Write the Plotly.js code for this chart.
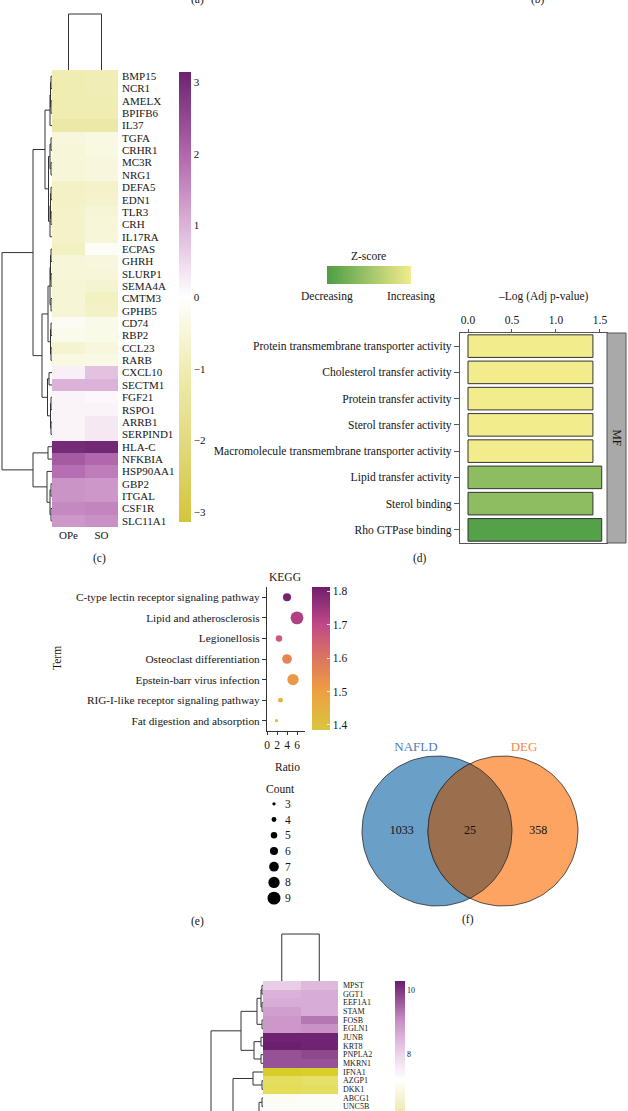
<!DOCTYPE html>
<html><head><meta charset="utf-8">
<script src="https://cdn.plot.ly/plotly-3.0.1.min.js"></script>
<style>html,body{margin:0;padding:0;background:#fff;overflow:hidden}#chart{width:628px;height:1111px}</style>
</head><body><div id="chart"></div>
<script>
// ================= DATA =================
// (c) heatmap
const cGenes = ['BMP15','NCR1','AMELX','BPIFB6','IL37','TGFA','CRHR1','MC3R','NRG1','DEFA5','EDN1','TLR3','CRH','IL17RA','ECPAS','GHRH','SLURP1','SEMA4A','CMTM3','GPHB5','CD74','RBP2','CCL23','RARB','CXCL10','SECTM1','FGF21','RSPO1','ARRB1','SERPIND1','HLA-C','NFKBIA','HSP90AA1','GBP2','ITGAL','CSF1R','SLC11A1'];
const cOPe = [-1.0,-1.0,-1.0,-1.0,-1.2,-0.45,-0.5,-0.5,-0.5,-0.75,-0.75,-0.7,-0.7,-0.7,-0.8,-0.5,-0.5,-0.55,-0.55,-0.55,-0.15,-0.25,-0.6,-0.4,0.2,1.0,0.15,0.15,0.15,0.15,3.0,2.2,1.9,1.4,1.4,1.55,1.35];
const cSO  = [-0.95,-0.95,-1.0,-1.0,-1.2,-0.4,-0.4,-0.45,-0.45,-0.7,-0.65,-0.55,-0.5,-0.5,-0.1,-0.45,-0.5,-0.6,-0.8,-0.75,-0.3,-0.3,-0.45,-0.35,0.8,1.0,0.1,0.15,0.3,0.3,3.05,2.0,1.7,1.35,1.35,1.6,1.45];
const cSamples = ['OPe','SO'];
const cColorTicks = [-3,-2,-1,0,1,2,3];
// row dendrogram merges: [childA, childB, height]; leaves 0..36, merge k -> id 37+k
const cRowMerges = [[0,1,1],[2,3,1],[37,38,1.5],[39,4,2],[5,6,1],[7,8,1],[41,42,2],[9,10,1],[11,12,1],[44,45,1.5],[46,13,2],[43,47,3.5],[40,48,7],
  [14,15,1],[16,17,1],[50,51,1.5],[18,19,1],[52,53,2],[20,21,1],[22,23,1],[55,56,1.5],[54,57,4],[24,25,3],[26,27,1],[28,29,1],[60,61,1.5],[59,62,4.5],[58,63,10],[49,64,19],
  [30,31,4],[33,34,1],[35,36,1],[67,68,2],[32,69,5],[66,70,19],[65,71,50]];
const cColMerges = [[0,1,56]];

// (d) GO MF bar chart
const goTerms = ['Protein transmembrane transporter activity','Cholesterol transfer activity','Protein transfer activity','Sterol transfer activity','Macromolecule transmembrane transporter activity','Lipid transfer activity','Sterol binding','Rho GTPase binding'];
const goLogP = [1.42,1.42,1.42,1.42,1.42,1.52,1.42,1.52];
const goZ = [1,1,1,1,1,-0.24,-0.24,-0.92];
const goCategory = 'MF';
const goTicks = [0,0.5,1,1.5];
const zLegendValues = [-1,1];

// (e) KEGG dot plot
const keggTerms = ['C-type lectin receptor signaling pathway','Lipid and atherosclerosis','Legionellosis','Osteoclast differentiation','Epstein-barr virus infection','RIG-I-like receptor signaling pathway','Fat digestion and absorption'];
const keggRatio = [4.0,6.0,2.4,4.0,5.2,2.7,1.9];
const keggCount = [6,9,5,7,8,4,3];
const keggLogP = [1.80,1.72,1.66,1.56,1.52,1.45,1.40];
const keggRatioTicks = [0,2,4,6];
const keggColorTicks = [1.4,1.5,1.6,1.7,1.8];
const countLegend = [3,4,5,6,7,8,9];

// (f) Venn
const vennSets = ['NAFLD','DEG'];
const vennCounts = [1033,25,358];

// (g) heatmap
const gGenes = ['MPST','GGT1','EEF1A1','STAM','FOSB','EGLN1','JUNB','KRT8','PNPLA2','MKRN1','IFNA1','AZGP1','DKK1','ABCG1','UNC5B'];
const gOPe = [8.1,8.5,8.6,8.8,8.9,8.9,10.2,10.25,9.7,9.7,4.2,5.2,5.1,7.05,7.1];
const gSO  = [8.4,8.6,8.6,8.6,9.3,9.0,10.2,10.2,9.8,9.7,4.3,5.3,5.2,7.1,7.1];
const gColorTicks = [8,10];
// leaves 0..14 visible, 15..30 continue below the picture; merge k -> id 31+k
const gRowMerges = [[0,1,1],[2,3,1],[31,32,2],[4,5,1],[33,34,6],[6,7,2],[8,9,2],[36,37,9],[35,38,22],[11,12,1],[10,40,10],
  [13,14,1],[15,16,1],[17,18,1],[43,44,2],[19,20,1],[21,22,1],[46,47,2],[45,48,3],[42,49,4],
  [23,24,1],[25,26,1],[51,52,2],[27,28,1],[29,30,1],[54,55,2],[53,56,4],[50,57,8],[41,58,30],[39,59,52]];
const gColMerges = [[0,1,46]];

// ================= HELPERS =================
const W=628,H=1111;
const px=v=>v/W, py=v=>1-v/H;
const dx=(a,b)=>[px(a),px(b)];
const dy=(t,b)=>[Math.max(0,py(b)),Math.min(1,py(t))];
const SERIF='"Liberation Serif","Times New Roman",serif';
const TXT='#151515';
const LINE='#333';
function nLeaves(merges){return merges.length+1;}
function dendro(n, merges){
  const pos=[],ht=[];for(let i=0;i<n;i++){pos[i]=i;ht[i]=0;}
  const P=[],Hh=[];
  merges.forEach(([a,b,h],k)=>{const id=n+k;pos[id]=(pos[a]+pos[b])/2;ht[id]=h;
    P.push(pos[a],pos[a],pos[b],pos[b],null);Hh.push(ht[a],h,h,ht[b],null);});
  return {P,H:Hh};
}
function hid(extra){return Object.assign({showgrid:false,zeroline:false,showline:false,showticklabels:false,ticks:'',fixedrange:true},extra);}
const idx=a=>a.map((_,i)=>i);
function ann(text,x,y,o){return Object.assign({text,x:px(x),y:py(y),xref:'paper',yref:'paper',showarrow:false,xanchor:'center',yanchor:'middle',font:{family:SERIF,size:11.5,color:TXT}},o||{});}

const traces=[];
const layout={width:W,height:H,margin:{l:0,r:0,t:0,b:0,autoexpand:false},paper_bgcolor:'#fff',plot_bgcolor:'rgba(0,0,0,0)',showlegend:false,hovermode:false,annotations:[],shapes:[]};

// ---------- (c) heatmap ----------
const cScale=[[0,'#d4c43c'],[0.18,'#e2da80'],[0.34,'#efedb2'],[0.5,'#ffffff'],[0.66,'#dcb2d8'],[0.82,'#b066ac'],[1,'#6c2470']];
traces.push({type:'heatmap',x:[0,1],y:idx(cGenes),z:cGenes.map((g,i)=>[cOPe[i],cSO[i]]),xaxis:'x',yaxis:'y',
  colorscale:cScale,zmin:-3.14,zmax:3.14,
  colorbar:{x:px(179),xanchor:'left',y:py(72),yanchor:'top',len:450,lenmode:'pixels',thickness:12,outlinewidth:0,xpad:0,ypad:0,
    tickvals:cColorTicks,ticks:'',ticklabelstandoff:2,tickfont:{family:SERIF,size:11,color:TXT}}});
layout.xaxis={domain:dx(52,118),range:[-0.5,1.5],tickvals:[0,1],ticktext:cSamples,ticks:'',showgrid:false,zeroline:false,anchor:'y',tickfont:{family:SERIF,size:11,color:TXT},fixedrange:true};
layout.yaxis={domain:dy(70,527),range:[cGenes.length-0.5,-0.5],tickvals:idx(cGenes),ticktext:cGenes,side:'right',ticks:'',ticklabelstandoff:3,showgrid:false,zeroline:false,anchor:'x',tickfont:{family:SERIF,size:11,color:TXT},fixedrange:true};
{const d=dendro(2,cColMerges);traces.push({type:'scatter',mode:'lines',x:d.P,y:d.H,xaxis:'x2',yaxis:'y2',line:{color:LINE,width:1}});}
layout.xaxis2=hid({domain:dx(52,118),range:[-0.5,1.5],anchor:'y2'});
layout.yaxis2=hid({domain:dy(13,70),range:[0,57],anchor:'x2'});
{const d=dendro(cGenes.length,cRowMerges);traces.push({type:'scatter',mode:'lines',x:d.H,y:d.P,xaxis:'x3',yaxis:'y3',line:{color:LINE,width:1}});}
layout.xaxis3=hid({domain:dx(0,52),range:[52,0],anchor:'y3'});
layout.yaxis3=hid({domain:dy(70,527),range:[cGenes.length-0.5,-0.5],anchor:'x3'});

// ---------- (d) GO bars ----------
const zScale=[[0,'#4e9e46'],[1,'#f3ec8c']];
traces.push({type:'bar',orientation:'h',x:goLogP,y:idx(goTerms),width:0.86,xaxis:'x4',yaxis:'y4',
  marker:{color:goZ,colorscale:zScale,cmin:-1,cmax:1,line:{color:'#333',width:1}}});
layout.xaxis4={domain:dx(460,607),range:[-0.091,1.58],side:'top',tickvals:goTicks,ticktext:goTicks.map(v=>v.toFixed(1)),ticks:'outside',ticklen:3,tickcolor:'#555',
  showline:true,mirror:true,linecolor:'#555',linewidth:1,showgrid:false,zeroline:false,anchor:'y4',tickfont:{family:SERIF,size:11.5,color:TXT},fixedrange:true};
layout.yaxis4={domain:dy(333,543),range:[goTerms.length-0.5,-0.5],tickvals:idx(goTerms),ticktext:goTerms,ticks:'outside',ticklen:5,tickcolor:'#555',
  showline:true,mirror:true,linecolor:'#555',linewidth:1,showgrid:false,zeroline:false,anchor:'x4',tickfont:{family:SERIF,size:11.6,color:TXT},fixedrange:true};
layout.shapes.push({type:'rect',xref:'paper',yref:'paper',x0:px(607),x1:px(626),y0:py(543),y1:py(333),fillcolor:'#a9a9a9',line:{color:'#555',width:1}});
layout.annotations.push(ann(goCategory,616.5,438,{textangle:90,font:{family:SERIF,size:11.5,color:'#111'}}));
traces.push({type:'heatmap',x:[0,1],y:[0],z:[zLegendValues],zsmooth:'best',colorscale:zScale,zmin:-1,zmax:1,showscale:false,xaxis:'x5',yaxis:'y5'});
layout.xaxis5=hid({domain:dx(327,411),range:[0,1],anchor:'y5'});
layout.yaxis5=hid({domain:dy(266,284),range:[-0.5,0.5],anchor:'x5'});
layout.annotations.push(ann('Z-score',368,256),ann('Decreasing',327,296),ann('Increasing',411,296),ann('–Log (Adj p-value)',543,296));

// ---------- (e) KEGG ----------
const kScale=[[0,'#d8c640'],[0.27,'#eea040'],[0.5,'#dc7560'],[0.74,'#c04888'],[1,'#6e1e6c']];
const sizeOf=c=>1.6*c-1.5;
traces.push({type:'scatter',mode:'markers',x:keggRatio,y:idx(keggTerms),xaxis:'x6',yaxis:'y6',cliponaxis:false,
  marker:{size:keggCount.map(sizeOf),opacity:1,color:keggLogP,colorscale:kScale,cmin:1.385,cmax:1.812,line:{width:0},
    colorbar:{x:px(312),xanchor:'left',y:py(587),yanchor:'top',len:143,lenmode:'pixels',thickness:18,outlinewidth:0,xpad:0,ypad:0,
      tickvals:keggColorTicks,ticks:'inside',ticklen:3,tickcolor:'rgba(255,255,255,0.8)',tickfont:{family:SERIF,size:11.5,color:TXT}}}});
layout.xaxis6={domain:dx(267,305),range:[0,7.6],tickvals:keggRatioTicks,ticks:'outside',ticklen:3,tickcolor:LINE,showline:true,linecolor:LINE,linewidth:1,showgrid:false,zeroline:false,anchor:'y6',tickfont:{family:SERIF,size:11.5,color:TXT},fixedrange:true};
layout.yaxis6={domain:dy(587,731),range:[keggTerms.length-0.5,-0.5],tickvals:idx(keggTerms),ticktext:keggTerms,ticks:'outside',ticklen:4,tickcolor:LINE,showline:true,linecolor:LINE,linewidth:1,showgrid:false,zeroline:false,anchor:'x6',tickfont:{family:SERIF,size:11.3,color:TXT},fixedrange:true};
traces.push({type:'scatter',mode:'markers',x:countLegend.map(()=>0),y:countLegend,xaxis:'x7',yaxis:'y7',cliponaxis:false,marker:{size:countLegend.map(sizeOf),opacity:1,color:'#000',line:{width:0}}});
layout.xaxis7=hid({domain:dx(268,280),range:[-1,1],anchor:'y7'});
layout.yaxis7={domain:dy(796,906),range:[9.5,2.5],side:'right',tickvals:countLegend,ticktext:countLegend.map(String),ticks:'',ticklabelstandoff:4,showgrid:false,zeroline:false,showline:false,anchor:'x7',tickfont:{family:SERIF,size:11.5,color:TXT},fixedrange:true};
layout.annotations.push(ann('KEGG',285,577),ann('Term',57,658,{textangle:-90}),ann('Ratio',287,767),ann('Count',280,789));

// ---------- (f) Venn ----------
const vC1=[437,831],vC2=[503,831],vR=75;
function circ(c){const X=[],Y=[];for(let i=0;i<=120;i++){const a=2*Math.PI*i/120;X.push(c[0]+vR*Math.cos(a));Y.push(c[1]+vR*Math.sin(a));}return{X,Y};}
const th=Math.acos((vC2[0]-vC1[0])/2/vR);
const lens={X:[],Y:[]};
for(let i=0;i<=60;i++){const a=-th+2*th*i/60;lens.X.push(vC1[0]+vR*Math.cos(a));lens.Y.push(vC1[1]+vR*Math.sin(a));}
for(let i=0;i<=60;i++){const a=Math.PI-th+2*th*i/60;lens.X.push(vC2[0]+vR*Math.cos(a));lens.Y.push(vC2[1]+vR*Math.sin(a));}
const c1=circ(vC1),c2=circ(vC2);
traces.push({type:'scatter',mode:'lines',x:c1.X,y:c1.Y,fill:'toself',fillcolor:'#6a9fc8',line:{color:'#2a2a2a',width:0.8},xaxis:'x8',yaxis:'y8'});
traces.push({type:'scatter',mode:'lines',x:c2.X,y:c2.Y,fill:'toself',fillcolor:'#fda462',line:{color:'#2a2a2a',width:0.8},xaxis:'x8',yaxis:'y8'});
traces.push({type:'scatter',mode:'lines',x:lens.X,y:lens.Y,fill:'toself',fillcolor:'#9b6e4d',line:{color:'#2a2a2a',width:0.8},xaxis:'x8',yaxis:'y8'});
traces.push({type:'scatter',mode:'text',x:[vC1[0]-0.47*vR,(vC1[0]+vC2[0])/2,vC2[0]+0.47*vR],y:[vC1[1],vC1[1],vC1[1]],text:vennCounts.map(String),
  textfont:{family:SERIF,size:12,color:'#111'},xaxis:'x8',yaxis:'y8',cliponaxis:false});
traces.push({type:'scatter',mode:'text',x:[vC1[0]-21,vC2[0]+21],y:[vC1[1]-vR-8,vC2[1]-vR-8],text:vennSets,
  textfont:{family:SERIF,size:13,color:['#4a7eb5','#f0884a']},xaxis:'x8',yaxis:'y8',cliponaxis:false});
layout.xaxis8=hid({domain:dx(330,628),range:[330,628],anchor:'y8'});
layout.yaxis8=hid({domain:dy(730,930),range:[930,730],anchor:'x8'});

// ---------- (g) heatmap ----------
const gScale=[[0,'#d6c81e'],[0.16,'#e2dc50'],[0.35,'#ecebb0'],[0.51,'#ffffff'],[0.64,'#ecd2ea'],[0.8,'#c890c6'],[1,'#6a1c6c']];
traces.push({type:'heatmap',x:[0,1],y:idx(gGenes),z:gGenes.map((g,i)=>[gOPe[i],gSO[i]]),xaxis:'x9',yaxis:'y9',
  colorscale:gScale,zmin:4.0,zmax:10.28,
  colorbar:{x:px(395),xanchor:'left',y:py(981),yanchor:'top',len:201,lenmode:'pixels',thickness:10,outlinewidth:0,xpad:0,ypad:0,
    tickvals:gColorTicks,ticks:'',ticklabelstandoff:4,tickfont:{family:SERIF,size:8,color:TXT}}});
layout.xaxis9=hid({domain:dx(263,338),range:[-0.5,1.5],anchor:'y9'});
layout.yaxis9={domain:dy(981,1111),range:[gGenes.length-0.5,-0.5],tickvals:idx(gGenes),ticktext:gGenes,side:'right',ticks:'',ticklabelstandoff:4,ticklabeloverflow:'allow',showgrid:false,zeroline:false,anchor:'x9',tickfont:{family:SERIF,size:8,color:TXT},fixedrange:true};
{const d=dendro(2,gColMerges);traces.push({type:'scatter',mode:'lines',x:d.P,y:d.H,xaxis:'x10',yaxis:'y10',line:{color:LINE,width:1}});}
layout.xaxis10=hid({domain:dx(263,338),range:[-0.5,1.5],anchor:'y10'});
layout.yaxis10=hid({domain:dy(933,981),range:[0,47],anchor:'x10'});
{const d=dendro(nLeaves(gRowMerges),gRowMerges);traces.push({type:'scatter',mode:'lines',x:d.H,y:d.P,xaxis:'x11',yaxis:'y11',line:{color:LINE,width:1}});}
layout.xaxis11=hid({domain:dx(205,263),range:[58,0],anchor:'y11'});
layout.yaxis11=hid({domain:dy(981,1111),range:[gGenes.length-0.5,-0.5],anchor:'x11'});

// ---------- captions ----------
layout.annotations.push(ann('(a)',197,-1),ann('(b)',538,-1),ann('(c)',99,558),ann('(d)',420,558),ann('(e)',197,921),ann('(f)',468,920));

Plotly.newPlot('chart',traces,layout,{staticPlot:true,displayModeBar:false});
</script></body></html>
